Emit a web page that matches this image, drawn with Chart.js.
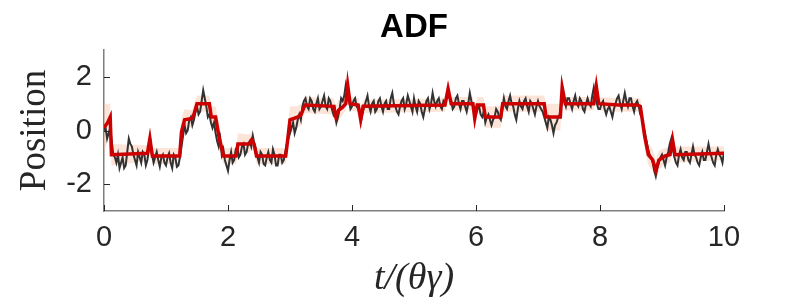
<!DOCTYPE html>
<html>
<head>
<meta charset="utf-8">
<script src="https://cdn.jsdelivr.net/npm/chart.js@4.4.1/dist/chart.umd.min.js"></script>
<style>
  body { margin: 0; background: #ffffff; }
  canvas { display: block; }
</style>
</head>
<body>
<canvas id="grafica" width="798" height="300"></canvas>
<script>
var titulo_grafica = 'ADF'
// muestras cada 0.025 de t/(theta gamma)
var paso = 0.025
var posicion_ruido = [
  0.0, 0.1, -0.3, -0.1, 0.1, -0.4, -0.9, -1.0, -1.2, -0.9, -1.4, -1.2, -1.0, -1.4, -1.3, -0.8, -0.3, -0.5, -0.6, -0.9,
  -1.1, -1.3, -0.8, -1.0, -1.2, -0.8, -0.9, -1.3, -1.1, -0.7, -0.4, -0.9, -1.2, -1.0, -0.8, -1.1, -1.35, -1.0, -0.9, -1.2,
  -1.3, -1.0, -0.85, -1.2, -1.4, -0.9, -1.0, -1.35, -1.3, -1.0, -0.6, -0.2, 0.2, -0.1, 0.0, 0.4, 0.5, 0.2, 0.4, 0.7,
  0.9, 0.6, 0.7, 1.1, 1.5, 1.2, 0.9, 0.5, 0.6, 0.3, 0.1, 0.3, -0.1, -0.4, -0.6, -0.3, -0.9, -0.7, -1.1, -1.3,
  -1.5, -1.1, -0.8, -1.2, -1.1, -0.7, -0.6, -1.0, -0.9, -0.6, -0.5, -0.9, -0.8, -0.5, -0.4, -0.6, -0.2, -0.5, -0.7, -1.0,
  -1.2, -0.8, -0.9, -1.25, -1.3, -1.0, -0.8, -1.1, -1.2, -0.7, -0.9, -1.3, -1.3, -0.9, -0.9, -1.2, -1.1, -0.8, -0.5, -0.3,
  -0.1, 0.1, 0.3, -0.1, 0.1, 0.4, 0.6, 0.4, 0.9, 1.1, 1.2, 0.9, 0.8, 1.2, 1.1, 0.8, 0.7, 1.0, 1.2, 0.8,
  0.9, 1.1, 1.3, 0.9, 0.8, 1.2, 1.1, 0.8, 0.6, 0.8, 0.3, 0.5, 0.8, 1.2, 1.1, 1.3, 1.7, 1.4, 1.2, 0.8,
  0.9, 1.1, 1.2, 0.9, 0.8, 0.6, 0.4, 0.7, 0.9, 1.1, 1.3, 0.9, 0.7, 1.0, 1.1, 0.7, 0.8, 1.1, 1.2, 0.9,
  0.7, 1.0, 1.1, 0.8, 0.8, 1.2, 1.4, 1.0, 0.9, 0.7, 0.6, 0.9, 1.1, 1.2, 0.8, 1.0, 1.3, 1.1, 0.9, 0.7,
  1.2, 0.9, 0.7, 1.1, 1.0, 0.7, 0.5, 0.8, 1.1, 1.2, 0.8, 1.0, 1.4, 1.1, 0.9, 1.1, 1.2, 0.9, 0.8, 1.1,
  1.0, 1.2, 1.5, 1.2, 1.1, 0.8, 0.9, 1.2, 1.3, 1.0, 0.8, 1.1, 1.1, 0.9, 0.7, 1.0, 1.4, 1.1, 0.9, 0.7,
  0.6, 0.8, 0.9, 0.6, 0.5, 0.7, 0.3, 0.5, 0.6, 0.4, 0.2, 0.4, 0.5, 0.8, 0.7, 0.5, 0.4, 0.8, 1.2, 0.9,
  0.8, 1.1, 1.3, 1.0, 0.9, 0.6, 0.4, 0.8, 1.1, 0.9, 0.8, 1.1, 1.2, 0.9, 0.7, 1.1, 1.0, 0.8, 0.6, 0.9,
  1.1, 0.9, 0.8, 0.7, 0.5, 0.3, 0.1, 0.5, 0.4, 0.2, -0.1, 0.2, 0.3, 0.5, 0.6, 0.9, 1.3, 1.1, 0.9, 1.2,
  1.2, 1.0, 0.8, 1.1, 1.3, 1.0, 0.9, 1.2, 1.1, 0.8, 0.7, 1.0, 1.2, 1.0, 0.9, 1.3, 1.6, 1.2, 1.0, 0.8,
  0.8, 1.0, 1.1, 0.8, 0.6, 0.8, 0.9, 0.7, 0.5, 0.8, 1.0, 1.2, 1.3, 1.0, 0.8, 1.1, 1.4, 1.1, 0.9, 1.2,
  1.2, 0.9, 0.7, 1.0, 1.1, 0.9, 0.6, 0.5, 0.2, -0.1, -0.4, -0.7, -0.9, -1.0, -1.2, -1.5, -1.7, -1.4, -1.2, -1.0,
  -0.9, -1.1, -1.3, -1.0, -0.8, -0.5, -0.3, -0.7, -1.0, -1.2, -1.3, -0.9, -0.7, -1.0, -1.1, -0.8, -0.8, -1.1, -1.2, -0.9,
  -0.6, -0.9, -1.0, -1.2, -1.3, -1.0, -0.8, -1.1, -1.1, -0.8, -0.5, -0.8, -1.0, -1.2, -1.3, -0.9, -0.7, -0.9, -1.0, -1.2,
  -0.8
]

// estimacion ADF (linea roja), puntos de quiebre
var tiempos_adf = [0, 0.06, 0.1, 0.12, 0.7, 0.74, 0.78, 1.22, 1.25, 1.3, 1.42, 1.45, 1.5, 1.7, 1.73, 1.8, 1.86, 1.93,
  2.13, 2.16, 2.34, 2.38, 2.42, 2.46, 2.93, 2.96, 3.0, 3.12, 3.18, 3.24, 3.7, 3.74, 3.78, 3.84, 3.9, 3.93, 3.97,
  4.1, 4.14, 4.18, 5.5, 5.55, 5.6, 5.95, 5.98, 6.02, 6.12, 6.15, 6.4, 6.43, 7.1, 7.13, 7.36, 7.39, 7.44,
  7.9, 7.94, 7.98, 8.3, 8.6, 8.65, 8.72, 8.78, 8.85, 8.9, 8.95, 9.05, 9.13, 9.17, 9.21, 10]
var posicion_adf = [0.1, 0.3, 0.5, -0.9, -0.85, -0.3, -0.95, -0.95, -0.05, 0.4, 0.45, 0.6, 1.0, 1.0, 0.5, 0.5, -0.3, -0.95,
  -0.95, -0.5, -0.5, -0.35, -0.5, -0.95, -0.95, -0.4, 0.4, 0.5, 0.6, 0.95, 0.9, 0.5, 0.75, 0.85, 1.0, 1.7, 1.0,
  0.95, 0.4, 0.9, 0.95, 1.55, 1.0, 1.0, 0.45, 0.95, 0.95, 0.5, 0.5, 1.0, 1.0, 0.5, 0.5, 1.6, 1.0,
  1.0, 1.65, 1.0, 0.95, 0.95, 0.9, -0.2, -0.9, -1.1, -1.5, -1.1, -0.95, -0.9, -0.35, -0.9, -0.85]
// media anchura de la banda de incertidumbre en cada quiebre
var ancho_banda = [0.9, 0.7, 0.5, 0.4, 0.3, 0.35, 0.3, 0.3, 0.5, 0.4, 0.3, 0.4, 0.3, 0.3, 0.4, 0.4, 0.5, 0.3,
  0.3, 0.4, 0.35, 0.3, 0.3, 0.3, 0.3, 0.5, 0.5, 0.4, 0.4, 0.3, 0.3, 0.4, 0.4, 0.3, 0.25, 0.3, 0.25,
  0.25, 0.4, 0.25, 0.25, 0.3, 0.25, 0.25, 0.4, 0.3, 0.3, 0.4, 0.4, 0.3, 0.3, 0.5, 0.5, 0.35, 0.25,
  0.25, 0.3, 0.25, 0.25, 0.25, 0.3, 0.5, 0.4, 0.4, 0.4, 0.35, 0.3, 0.3, 0.35, 0.3, 0.25]

var ticks_x = [0, 2, 4, 6, 8, 10]
var ticks_y = [-2, 0, 2]

var puntos_ruido = posicion_ruido.map((v, i) => ({ x: i * paso, y: v }))
var puntos_adf = tiempos_adf.map((t, i) => ({ x: t, y: posicion_adf[i] }))
var banda_sup = tiempos_adf.map((t, i) => ({ x: t, y: posicion_adf[i] + ancho_banda[i] }))
var banda_inf = tiempos_adf.map((t, i) => ({ x: t, y: posicion_adf[i] - ancho_banda[i] }))

// marcas de los ejes hacia dentro, como en matlab, y titulo centrado sobre el area
var marcas_internas = {
  id: 'marcas_internas',
  afterDatasetsDraw(chart) {
    var ctx = chart.ctx, eje_x = chart.scales.x, eje_y = chart.scales.y
    ctx.save()
    ctx.strokeStyle = '#262626'
    ctx.lineWidth = 1
    ticks_x.forEach(v => {
      var px = Math.round(eje_x.getPixelForValue(v)) + 0.5
      ctx.beginPath(); ctx.moveTo(px, eje_y.bottom); ctx.lineTo(px, eje_y.bottom - 6); ctx.stroke()
    })
    ticks_y.forEach(v => {
      var py = Math.round(eje_y.getPixelForValue(v)) + 0.5
      ctx.beginPath(); ctx.moveTo(eje_x.left, py); ctx.lineTo(eje_x.left + 6, py); ctx.stroke()
    })
    ctx.restore()
  },
  afterDraw(chart) {
    var ctx = chart.ctx, area = chart.chartArea
    ctx.save()
    ctx.fillStyle = '#000000'
    ctx.font = 'bold 33px "Liberation Sans"'
    ctx.textAlign = 'center'
    ctx.textBaseline = 'middle'
    ctx.fillText(titulo_grafica, (area.left + area.right) / 2, 28)
    ctx.restore()
  }
}

var carga = {
  type: 'line',
  data: {
    datasets: [
      { label: 'ADF', data: puntos_adf, borderColor: 'rgb(204, 0, 0)', borderWidth: 3.5, pointRadius: 0, order: 0, fill: false },
      { label: 'Datos', data: puntos_ruido, borderColor: 'rgb(50, 50, 50)', borderWidth: 2, pointRadius: 0, order: 1, fill: false },
      { label: 'sup', data: banda_sup, borderWidth: 0, borderColor: 'rgba(0,0,0,0)', pointRadius: 0, order: 2,
        fill: '+1', backgroundColor: 'rgba(250, 185, 155, 0.38)' },
      { label: 'inf', data: banda_inf, borderWidth: 0, borderColor: 'rgba(0,0,0,0)', pointRadius: 0, order: 3, fill: false }
    ]
  },
  options: {
    responsive: false,
    animation: false,
    devicePixelRatio: 1,
    layout: { padding: { left: 0, right: 74, top: 50, bottom: 0 } },
    plugins: {
      legend: { display: false },
      tooltip: { enabled: false },
      title: { display: false }
    },
    scales: {
      x: {
        type: 'linear', min: 0, max: 10,
        afterFit: function (eje) { eje.height = 89 },
        afterBuildTicks: function (eje) { eje.ticks = ticks_x.map(v => ({ value: v })) },
        grid: { display: true, drawOnChartArea: false, drawTicks: false },
        border: { display: true, color: '#7f7f7f', width: 1.5 },
        ticks: { color: '#262626', padding: 10, maxRotation: 0, font: { family: 'Liberation Sans', size: 29 } },
        title: {
          display: true, text: 't/(θγ)', color: '#262626',
          font: { family: 'Liberation Serif', size: 38, style: 'italic', lineHeight: 1.1 },
          padding: { top: 0, bottom: 0 }
        }
      },
      y: {
        min: -3, max: 3,
        afterFit: function (eje) { eje.width = 104 },
        afterBuildTicks: function (eje) { eje.ticks = ticks_y.map(v => ({ value: v })) },
        grid: { display: true, drawOnChartArea: false, drawTicks: false },
        border: { display: true, color: '#7f7f7f', width: 1.5 },
        ticks: { color: '#262626', padding: 12, font: { family: 'Liberation Sans', size: 29 } },
        title: {
          display: true, text: 'Position', color: '#262626',
          font: { family: 'Liberation Serif', size: 37, lineHeight: 1.2 },
          padding: { top: 13, bottom: 0 }
        }
      }
    }
  },
  plugins: [marcas_internas]
}

var grafica = new Chart(document.getElementById('grafica'), carga)
</script>
</body>
</html>
